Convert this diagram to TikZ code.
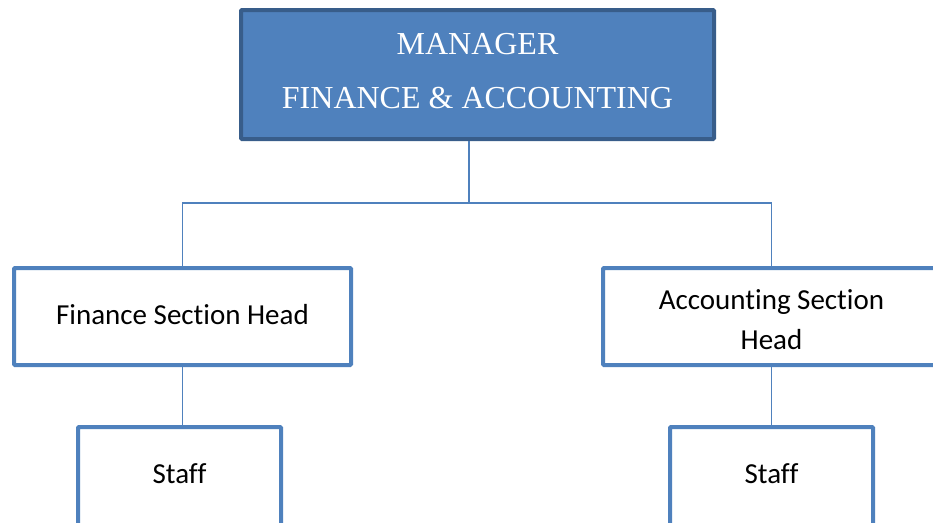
\documentclass[tikz,border=0pt]{standalone}
\usepackage{fontspec}
\setmainfont[Ligatures=NoCommon]{Carlito}
\newfontfamily\timesfont{Liberation Serif}
\definecolor{boxblue}{HTML}{4F81BD}
\definecolor{darkblue}{HTML}{385D8A}
\newcommand{\placetext}[2]{\smash{\raisebox{#1}{\begin{tabular}[t]{@{}c@{}}#2\end{tabular}}}}
\begin{document}
\begin{tikzpicture}[x=1pt,y=-1pt,
  mgrbox/.style={draw=darkblue, line width=4pt, fill=boxblue, rounded corners=1pt,
    minimum width=473pt, minimum height=129pt, inner sep=0pt,
    text=white, font=\timesfont\fontsize{32}{54}\selectfont},
  unitbox/.style={draw=boxblue, line width=4pt, fill=white, rounded corners=1pt,
    inner sep=0pt, font=\fontsize{29}{40}\selectfont},
  link/.style={draw=boxblue, line width=1.6pt}]
\useasboundingbox (0,0) rectangle (933,522);
\clip (0,0) rectangle (933,522);
\node[mgrbox] (mgr) at (477.5,74.5) {\placetext{20.5pt}{MANAGER\\FINANCE \& ACCOUNTING}};
\node[unitbox, minimum width=337pt, minimum height=97pt] (fin) at (182.5,316.5) {\placetext{-7.5pt}{Finance Section Head}};
\node[unitbox, minimum width=337pt, minimum height=97pt] (acc) at (771.5,316.5) {\placetext{7.5pt}{Accounting Section\\Head}};
\node[unitbox, minimum width=203pt, minimum height=100pt] (st1) at (179.5,477) {\placetext{-6pt}{Staff}};
\node[unitbox, minimum width=203pt, minimum height=100pt] (st2) at (771.5,477) {\placetext{-6pt}{Staff}};
\coordinate (j) at (469,203);
\draw[link] (mgr.south -| j) -- (j);
\draw[link] (fin.north) |- (j) -| (acc.north);
\draw[link] (fin.south) -- (fin.south |- st1.north);
\draw[link] (acc.south) -- (st2.north);
\end{tikzpicture}
\end{document}
